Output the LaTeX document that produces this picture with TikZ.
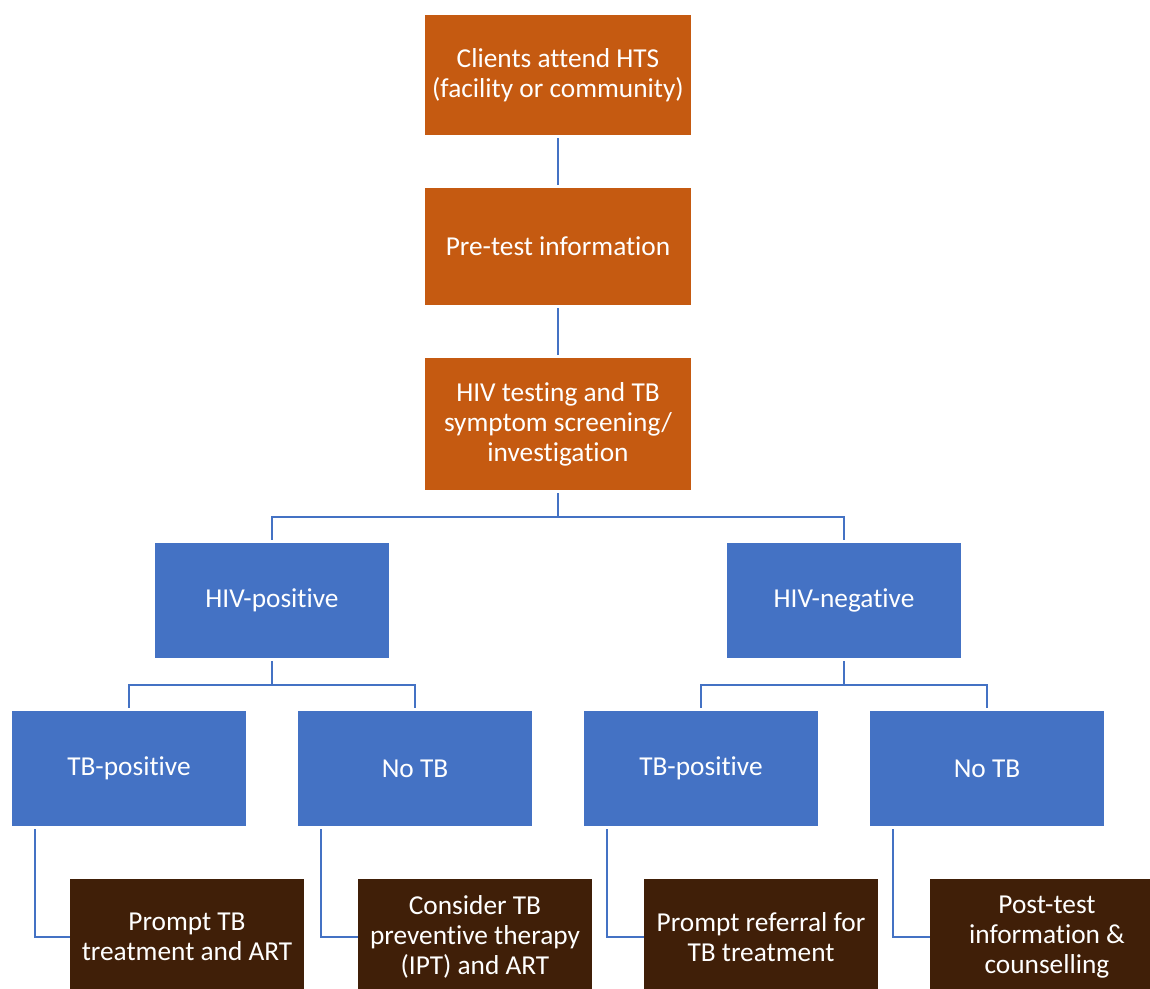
\documentclass[tikz,border=0pt]{standalone}
\usepackage{fontspec}
\setmainfont{Carlito}[Ligatures=NoCommon]
\definecolor{orng}{HTML}{C55A11}
\definecolor{blu}{HTML}{4472C4}
\definecolor{brwn}{HTML}{401F08}
\definecolor{lin}{HTML}{4472C4}
\tikzset{
  box/.style={draw=none, text=white, align=center, inner sep=0pt,
    font=\fontsize{20.5}{22.5}\selectfont},
  obox/.style={box, fill=orng, minimum width=266*0.75pt},
  bbox/.style={box, fill=blu, minimum width=234*0.75pt, minimum height=115*0.75pt},
  dbox/.style={box, fill=brwn, minimum width=234*0.75pt, minimum height=116*0.75pt},
  conn/.style={draw=lin, line width=1.6pt, shorten <=2.25pt, shorten >=2.25pt},
}
\begin{document}
\begin{tikzpicture}[x=0.75pt,y=-0.75pt]
\useasboundingbox (0,0) rectangle (1150,989);
\clip (0,0) rectangle (1150,989);
\node[obox, minimum height=120*0.75pt] (A) at (558,75) {Clients attend HTS\\(facility or community)};
\node[obox, minimum height=117*0.75pt] (B) at (558,246.5) {Pre-test information};
\node[obox, minimum height=132*0.75pt] (C) at (558,424) {HIV testing and TB\\symptom screening/\\investigation};
\node[bbox] (D) at (272,600.5) {HIV-positive};
\node[bbox] (E) at (844,600.5) {HIV-negative};
\node[bbox] (F1) at (129,768.5) {TB-positive};
\node[bbox] (F2) at (415,768.5) {No TB};
\node[bbox] (F3) at (701,768.5) {TB-positive};
\node[bbox] (F4) at (987,768.5) {No TB};
\node[dbox] (G1) at (187,937) {Prompt TB\\treatment and ART};
\node[dbox] (G2) at (475,937) {Consider TB\\preventive therapy\\(IPT) and ART};
\node[dbox] (G3) at (761,937) {Prompt referral for\\TB treatment};
\node[dbox] (G4) at (1047,937) {Post-test\\information \&\\counselling};
\draw[conn] (A) -- (B);
\draw[conn] (B) -- (C);
\draw[conn, shorten >=0pt] (C.south) -- ++(0,27) coordinate (j1);
\draw[conn] (D.north) |- (j1) -| (E.north);
\draw[conn, shorten >=0pt] (D.south) -- ++(0,27) coordinate (j2);
\draw[conn] (F1.north) |- (j2) -| (F2.north);
\draw[conn, shorten >=0pt] (E.south) -- ++(0,27) coordinate (j3);
\draw[conn] (F3.north) |- (j3) -| (F4.north);
\draw[conn, shorten >=0pt] ([xshift=23*0.75pt]F1.south west) |- (G1.west);
\draw[conn, shorten >=0pt] ([xshift=23*0.75pt]F2.south west) |- (G2.west);
\draw[conn, shorten >=0pt] ([xshift=23*0.75pt]F3.south west) |- (G3.west);
\draw[conn, shorten >=0pt] ([xshift=23*0.75pt]F4.south west) |- (G4.west);
\end{tikzpicture}
\end{document}
